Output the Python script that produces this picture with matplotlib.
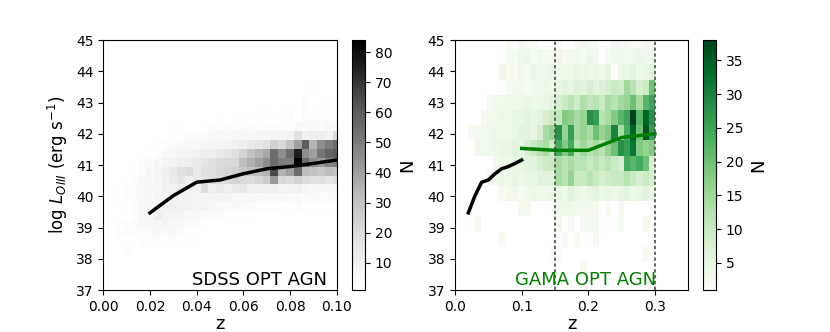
import numpy as np
import matplotlib
matplotlib.use('Agg')
import matplotlib.pyplot as plt

# SDSS 2D histogram: z bins x log L bins (rows listed top -> bottom)
sdss_z_edges = np.linspace(0.005, 0.1016, 30)
sdss_L_edges = np.linspace(38.108, 43.504, 20)
sdss_counts = [
    [0,0,0,0,0,0,0,0,0,0,0,0,0,0,0,0,0,0,0,0,0,0,0,0,0,2,0,0,0],
    [0,0,0,0,0,0,0,0,0,0,0,0,0,0,0,0,0,0,0,0,0,0,0,0,3,0,0,2,0],
    [0,0,0,0,0,0,0,0,0,0,0,0,0,0,0,0,0,0,0,2,0,0,2,0,3,0,2,0,2],
    [0,0,0,0,0,0,0,0,0,0,0,0,0,2,0,0,2,0,3,0,0,2,3,0,4,3,3,4,3],
    [0,0,0,0,0,0,0,2,0,0,0,2,3,0,3,2,3,3,4,3,3,4,3,5,4,5,4,6,5],
    [0,0,0,0,0,0,0,3,2,3,4,4,5,6,5,6,7,6,8,7,8,9,10,18,10,12,12,10,20],
    [0,0,0,0,0,2,3,4,5,6,6,7,8,8,9,10,12,14,16,18,25,22,30,40,60,35,45,50,55],
    [0,0,0,0,2,3,5,6,8,9,10,11,12,14,16,18,24,30,34,38,55,45,55,75,45,40,52,58,60],
    [0,0,0,3,4,6,8,10,12,12,14,16,18,20,22,22,32,36,40,45,55,50,50,84,55,45,42,48,50],
    [0,0,2,4,6,8,12,14,18,20,14,18,20,22,24,25,28,30,32,35,65,35,40,55,32,30,28,32,30],
    [0,2,3,5,6,8,10,14,16,12,14,16,18,20,22,24,22,20,24,26,42,22,20,24,20,18,18,16,18],
    [2,3,4,5,7,8,10,11,12,12,11,20,12,14,12,14,15,12,12,11,12,9,10,11,8,7,6,7,6],
    [2,3,4,5,6,8,9,10,9,10,9,9,8,9,8,7,6,7,5,6,5,5,4,5,4,4,3,4,3],
    [0,2,3,5,7,8,10,12,10,11,9,8,7,6,5,5,4,4,3,3,3,2,2,3,0,2,0,2,0],
    [0,0,3,5,6,12,8,9,7,6,5,4,4,3,2,2,0,2,0,0,0,0,0,0,0,0,0,0,0],
    [2,3,4,6,5,6,8,6,5,4,3,2,0,0,0,0,0,0,0,0,0,0,0,0,0,0,0,0,0],
    [3,4,4,3,4,5,4,5,3,2,0,0,0,0,0,0,0,0,0,0,0,0,0,0,0,0,0,0,0],
    [0,0,2,4,3,3,2,3,0,2,0,0,0,0,0,0,0,0,0,0,0,0,0,0,0,0,0,0,0],
    [0,3,0,0,0,0,0,0,0,0,0,0,0,0,0,0,0,0,0,0,0,0,0,0,0,0,0,0,0],
]

# GAMA 2D histogram (rows top -> bottom)
gama_z_edges = np.linspace(0.02, 0.30, 31)
gama_L_edges = np.linspace(37.414, 45.19, 17)
gama_counts = [
    [0,0,0,0,0,0,2,0,3,2,2,0,0,0,2,0,0,2,3,2,2,0,0,3,2,3,2,2,3,3],
    [0,0,0,0,0,0,2,2,3,4,2,3,2,2,3,2,3,3,2,4,3,0,2,3,4,3,3,4,3,4],
    [0,0,0,0,0,3,2,2,3,2,4,3,3,4,3,4,3,5,4,3,4,3,5,0,4,5,6,4,5,6],
    [0,0,0,0,0,0,2,3,3,2,3,4,4,3,5,6,5,7,6,8,6,7,8,10,9,15,12,8,10,20],
    [0,0,0,2,3,3,4,3,4,5,4,4,5,6,8,10,12,9,13,11,12,10,14,12,15,16,20,14,22,25],
    [0,0,2,3,3,4,4,5,5,6,5,6,8,10,11,18,17,14,16,28,26,12,14,18,22,25,38,22,34,28],
    [2,2,3,3,4,4,4,5,6,6,5,8,14,16,28,16,26,14,16,14,20,16,18,30,14,24,34,20,36,26],
    [0,3,3,3,4,5,5,6,5,8,10,12,14,10,24,18,24,12,15,12,14,12,16,20,28,26,32,18,16,18],
    [0,0,0,0,3,4,4,5,5,6,6,8,9,10,14,12,14,12,12,10,12,10,12,10,8,24,22,24,20,8],
    [0,0,0,3,3,4,4,5,4,5,5,6,6,6,14,12,16,10,10,12,10,8,9,10,10,12,10,8,10,8],
    [0,0,0,0,0,2,3,3,2,3,4,3,3,4,5,4,6,5,4,5,6,4,5,4,5,6,4,5,6,4],
    [0,0,0,0,0,0,0,0,3,3,0,0,0,0,4,4,4,3,3,3,3,0,2,0,2,0,0,0,0,0],
    [0,2,0,0,0,0,0,0,0,0,0,0,0,0,3,0,3,0,2,2,2,0,0,0,2,0,0,0,2,0],
    [0,0,0,0,0,2,0,0,0,0,0,0,0,0,0,2,0,2,0,0,2,0,0,0,0,0,0,0,0,0],
    [0,0,0,0,0,0,0,0,0,0,0,0,0,1,1,0,0,0,0,0,0,0,0,0,0,0,0,0,2,0],
    [0,0,0,0,0,0,0,0,0,0,0,0,0,0,0,0,0,0,2,0,0,0,0,0,0,0,0,0,0,0],
]

# running medians
sdss_med_z = [0.02, 0.03, 0.04, 0.05, 0.06, 0.07, 0.08, 0.09, 0.10]
sdss_med_L = [39.47, 40.02, 40.45, 40.52, 40.72, 40.88, 40.95, 41.05, 41.16]
gama_med_z = [0.10, 0.15, 0.20, 0.25, 0.30]
gama_med_L = [41.53, 41.47, 41.47, 41.88, 42.00]
z_cuts = [0.15, 0.30]

fig = plt.figure(figsize=(8.3, 3.32), dpi=100)
ax1 = fig.add_axes([0.1245, 0.1265, 0.2812, 0.753])
cax1 = fig.add_axes([0.4245, 0.1265, 0.0153, 0.753])
ax2 = fig.add_axes([0.5482, 0.1265, 0.2811, 0.753])
cax2 = fig.add_axes([0.8474, 0.1265, 0.0153, 0.753])

H1 = np.ma.masked_equal(np.array(sdss_counts)[::-1], 0)
m1 = ax1.pcolormesh(sdss_z_edges, sdss_L_edges, H1, cmap='Greys', vmin=1, vmax=H1.max())
ax1.plot(sdss_med_z, sdss_med_L, color='k', lw=2.5)
ax1.set_xlim(0, 0.1)
ax1.set_ylim(37, 45)
ax1.set_xticks([0.0, 0.02, 0.04, 0.06, 0.08, 0.10])
ax1.set_xlabel('z', fontsize=13, labelpad=1)
ax1.set_ylabel(r'log $L_{OIII}$ (erg s$^{-1}$)', fontsize=12)
ax1.text(0.096, 37.03, 'SDSS OPT AGN', fontsize=13, color='k', ha='right', va='bottom')
cb1 = fig.colorbar(m1, cax=cax1)
cb1.set_ticks(range(10, 81, 10))
cb1.set_label('N', fontsize=13)

H2 = np.ma.masked_equal(np.array(gama_counts)[::-1], 0)
m2 = ax2.pcolormesh(gama_z_edges, gama_L_edges, H2, cmap='Greens', vmin=1, vmax=H2.max())
ax2.plot(sdss_med_z, sdss_med_L, color='k', lw=2.5)
ax2.plot(gama_med_z, gama_med_L, color='green', lw=2.5)
for zc in z_cuts:
    ax2.axvline(zc, color='0.3', lw=1.2, ls=(0, (2, 1.5)))
ax2.set_xlim(0, 0.35)
ax2.set_ylim(37, 45)
ax2.set_xticks([0.0, 0.1, 0.2, 0.3])
ax2.set_xlabel('z', fontsize=13, labelpad=1)
ax2.text(0.301, 37.03, 'GAMA OPT AGN', fontsize=13, color='green', ha='right', va='bottom')
cb2 = fig.colorbar(m2, cax=cax2)
cb2.set_ticks(range(5, 36, 5))
cb2.set_label('N', fontsize=13)

fig.savefig('out.png', dpi=100)
